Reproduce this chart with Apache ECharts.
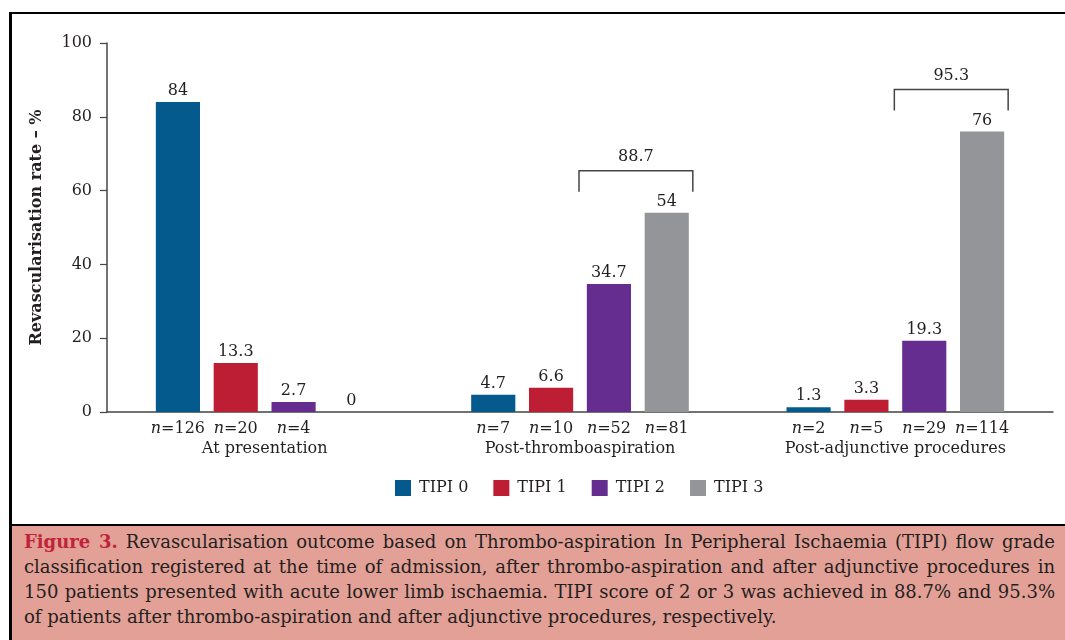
<!DOCTYPE html>
<html>
<head>
<meta charset="utf-8">
<script src="https://cdn.jsdelivr.net/npm/echarts@6/dist/echarts.min.js"></script>
<style>
  html, body { margin: 0; padding: 0; width: 1065px; height: 640px; overflow: hidden; background: #fff; }
  #frame { position: absolute; left: 9px; top: 12px; width: 1100px; height: 700px; border-left: 3px solid #000; border-top: 2px solid #000; box-sizing: border-box; }
  #chart { position: absolute; left: 0; top: 0; width: 1065px; height: 525px; }
  #caption { position: absolute; left: 12px; top: 524px; right: 0; bottom: 0; border-top: 2px solid #000; background: #E3A096;
    font-family: "DejaVu Serif", serif; font-size: 18px; line-height: 25px; color: #231F20; padding: 3px 10px 0 12px; box-sizing: border-box; }
  #caption .l { text-align: justify; text-align-last: justify; white-space: nowrap; }
  #caption .last { text-align: left; text-align-last: left; }
  #caption b { color: #C0233A; }
</style>
</head>
<body>
<div id="frame"></div>
<div id="chart"></div>
<div id="caption">
  <div class="l"><b>Figure 3.</b> Revascularisation outcome based on Thrombo-aspiration In Peripheral Ischaemia (TIPI) flow grade</div>
  <div class="l">classification registered at the time of admission, after thrombo-aspiration and after adjunctive procedures in</div>
  <div class="l">150 patients presented with acute lower limb ischaemia. TIPI score of 2 or 3 was achieved in 88.7% and 95.3%</div>
  <div class="l last">of patients after thrombo-aspiration and after adjunctive procedures, respectively.</div>
</div>
<script>
const categories = ['At presentation', 'Post-thromboaspiration', 'Post-adjunctive procedures'];
const seriesNames = ['TIPI 0', 'TIPI 1', 'TIPI 2', 'TIPI 3'];
const tipi0 = [84, 4.7, 1.3];
const tipi1 = [13.3, 6.6, 3.3];
const tipi2 = [2.7, 34.7, 19.3];
const tipi3 = [0, 54, 76];
const n0 = [126, 7, 2];
const n1 = [20, 10, 5];
const n2 = [4, 52, 29];
const n3 = [null, 81, 114];
const bracketLabels = [null, '88.7', '95.3'];
const yMin = 0, yMax = 100, yInterval = 20;

const colors = ['#045A8D', '#BE1E34', '#662D91', '#939598'];
const values = [tipi0, tipi1, tipi2, tipi3];
const counts = [n0, n1, n2, n3];
const FONT = '"DejaVu Serif", serif';
const TXT = '#231F20';
const BAR_W = 0.14, GAP = 0.31;

const series = [];
values.forEach((vals, i) => {
  series.push({
    type: 'bar', name: 'n' + i, stack: 's' + i, silent: true,
    barWidth: (BAR_W * 100) + '%', barGap: (GAP * 100) + '%',
    data: categories.map(() => 0),
    itemStyle: { color: 'rgba(0,0,0,0)' },
    label: {
      show: true, position: 'bottom', distance: 9,
      formatter: p => counts[i][p.dataIndex] == null ? '' : '{i|n}{r|=' + counts[i][p.dataIndex] + '}',
      rich: {
        i: { fontFamily: FONT, fontStyle: 'italic', fontSize: 16, color: TXT },
        r: { fontFamily: FONT, fontSize: 16, color: TXT }
      }
    }
  });
  series.push({
    type: 'bar', name: seriesNames[i], stack: 's' + i,
    barWidth: (BAR_W * 100) + '%', barGap: (GAP * 100) + '%',
    data: vals,
    itemStyle: { color: colors[i] },
    label: { show: true, position: 'top', distance: 3, fontFamily: FONT, fontSize: 16, color: TXT }
  });
});

const bracketData = [];
bracketLabels.forEach((lab, c) => {
  if (lab == null) return;
  const m = Math.max(tipi2[c], tipi3[c]);
  bracketData.push([c, m + 11.4, m + 5.7]);
});

series.push({
  type: 'custom', silent: true, data: bracketData, z: 5,
  renderItem: (params, api) => {
    const c = api.value(0);
    const top = api.coord([c, api.value(1)]);
    const bot = api.coord([c, api.value(2)]);
    const band = api.size([1, 0])[0];
    const bw = band * BAR_W, gap = bw * GAP;
    const x1 = top[0] - 1;
    const x2 = top[0] + 1.5 * (bw + gap) + bw / 2 + 4;
    return {
      type: 'group',
      children: [
        { type: 'polyline', shape: { points: [[x1, bot[1]], [x1, top[1]], [x2, top[1]], [x2, bot[1]]] },
          style: { stroke: '#444', lineWidth: 1.5, fill: null } },
        { type: 'text', style: { text: bracketLabels[c], x: (x1 + x2) / 2, y: top[1] - 6,
          align: 'center', verticalAlign: 'bottom', fontFamily: FONT, fontSize: 16, fill: TXT } }
      ]
    };
  }
});

const chart = echarts.init(document.getElementById('chart'), null, { renderer: 'canvas' });
chart.setOption({
  animation: false,
  textStyle: { fontFamily: FONT },
  grid: { left: 107, right: 12, top: 43, bottom: 113, containLabel: false },
  legend: {
    data: seriesNames, left: 390, top: 475, icon: 'rect', itemWidth: 16, itemHeight: 16, itemGap: 25,
    textStyle: { fontFamily: FONT, fontSize: 16, color: TXT, padding: [0, 0, 0, 3] }
  },
  xAxis: {
    type: 'category', data: categories,
    axisLine: { lineStyle: { color: '#444', width: 1.5 } },
    axisTick: { show: false },
    axisLabel: { margin: 29, fontFamily: FONT, fontSize: 16, color: TXT }
  },
  yAxis: {
    type: 'value', min: yMin, max: yMax, interval: yInterval,
    name: 'Revascularisation rate – %', nameLocation: 'middle', nameGap: 62, nameRotate: 90,
    nameTextStyle: { fontFamily: FONT, fontWeight: 'bold', fontSize: 16, color: TXT },
    axisLine: { show: true, lineStyle: { color: '#444', width: 1.5 } },
    axisTick: { show: true, length: 7, lineStyle: { color: '#444', width: 1.2 } },
    splitLine: { show: false },
    axisLabel: { margin: 15, fontFamily: FONT, fontSize: 16, color: TXT }
  },
  series: series
});
</script>
</body>
</html>
